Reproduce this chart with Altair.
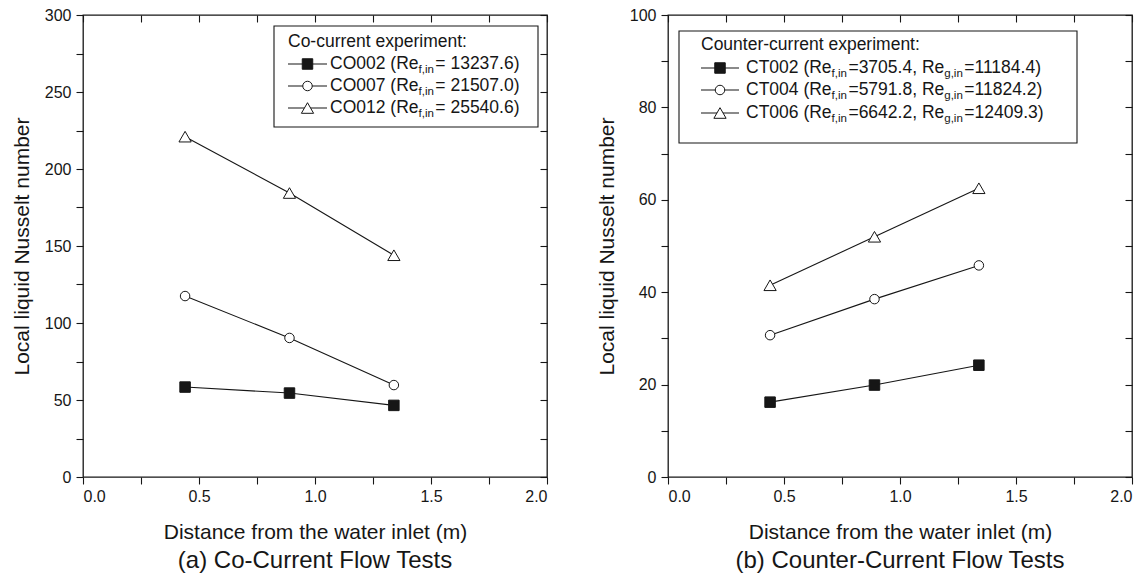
import altair as alt
import pandas as pd

FONT = "Liberation Sans"
INK = "#161616"

# ---------------- data ----------------
distance = [0.44, 0.89, 1.34]

co_series = ["CO002", "CO007", "CO012"]
co_re_f = ["13237.6", "21507.0", "25540.6"]
co002 = [58.4, 54.5, 46.5]
co007 = [117.5, 90.3, 59.7]
co012 = [221.0, 184.4, 144.0]

ct_series = ["CT002", "CT004", "CT006"]
ct_re_f = ["3705.4", "5791.8", "6642.2"]
ct_re_g = ["11184.4", "11824.2", "12409.3"]
ct002 = [16.2, 19.9, 24.2]
ct004 = [30.7, 38.5, 45.8]
ct006 = [41.5, 52.0, 62.5]

x_ticks = [0.0, 0.25, 0.5, 0.75, 1.0, 1.25, 1.5, 1.75, 2.0]
co_y_ticks = [0, 25, 50, 75, 100, 125, 150, 175, 200, 225, 250, 275, 300]
ct_y_ticks = [0, 10, 20, 30, 40, 50, 60, 70, 80, 90, 100]

x_title = "Distance from the water inlet (m)"
y_title = "Local liquid Nusselt number"
captions = ["(a) Co-Current Flow Tests", "(b) Counter-Current Flow Tests"]

# marker styles: (shape, fill, size)
STYLES = [("square", INK, 110), ("circle", "white", 90), ("triangle-up", "white", 150)]

W, H = 464, 462
LEG = 17.5   # legend font size
SUB = 11.5   # subscript font size

ARIAL = {' ': 0.278, '(': 0.333, ')': 0.333, ',': 0.278, '.': 0.278, '=': 0.584,
         'C': 0.722, 'O': 0.778, 'T': 0.611, 'R': 0.722, 'e': 0.556, 'f': 0.278,
         'g': 0.556, 'i': 0.222, 'n': 0.556}
for d in "0123456789":
    ARIAL[d] = 0.556


def tw(s, size):
    return sum(ARIAL.get(c, 0.556) for c in s) * size


ONE = alt.Data(values=[{"k": 1}])


def build_panel(series, values, ymax, y_ticks, y_label_step, caption, legend_title,
                legend_rows, box, title_pos, row_ys, sample_x, text_x):
    xs = alt.Scale(domain=[0, 2], nice=False, zero=False)
    ys = alt.Scale(domain=[0, ymax], nice=False, zero=False)
    rows = []
    for name, vals in zip(series, values):
        for xv, yv in zip(distance, vals):
            rows.append({"series": name, "x": xv, "y": yv})
    df = pd.DataFrame(rows)

    x_axis = alt.Axis(values=x_ticks, title=x_title,
                      labelExpr="abs(datum.value*2 - round(datum.value*2)) < 1e-6 ? format(datum.value, '.1f') : ''",
                      tickSize=7, labelPadding=4, titlePadding=17, grid=False, domain=False)
    y_axis = alt.Axis(values=y_ticks, title=y_title,
                      labelExpr=f"datum.value % {y_label_step} == 0 ? datum.label : ''",
                      tickSize=7, labelPadding=5, titlePadding=12, grid=False, domain=False)

    layers = []
    first = True
    for i, name in enumerate(series):
        shape, fill, size = STYLES[i]
        sub = df[df.series == name]
        line = alt.Chart(sub).mark_line(color=INK, strokeWidth=1.1).encode(
            x=alt.X("x:Q", scale=xs, axis=x_axis if first else None),
            y=alt.Y("y:Q", scale=ys, axis=y_axis if first else None),
        )
        first = False
        pts = alt.Chart(sub).mark_point(shape=shape, filled=True, fill=fill, stroke=INK,
                                        strokeWidth=1, size=size, opacity=1).encode(
            x=alt.X("x:Q", scale=xs, axis=None),
            y=alt.Y("y:Q", scale=ys, axis=None),
        )
        layers += [line, pts]

    # mirrored inward ticks on top and right
    frame = alt.Chart(df).mark_point(opacity=0).encode(
        x=alt.X("x:Q", scale=xs, axis=alt.Axis(orient="top", values=x_ticks, labels=False, title=None,
                                              tickSize=7, offset=-7, domain=False, grid=False)),
        y=alt.Y("y:Q", scale=ys, axis=alt.Axis(orient="right", values=y_ticks, labels=False, title=None,
                                              tickSize=7, offset=-7, domain=False, grid=False)),
    )
    layers.append(frame)

    # legend box
    bx0, bx1, by0, by1 = box
    layers.append(alt.Chart(ONE).mark_rect(fill="white", stroke=INK, strokeWidth=1.1).encode(
        x=alt.value(bx0), x2=alt.value(bx1), y=alt.value(by0), y2=alt.value(by1)))
    layers.append(alt.Chart(ONE).mark_text(text=legend_title, align="left", baseline="middle",
                                           font=FONT, fontSize=LEG, color=INK).encode(
        x=alt.value(title_pos[0]), y=alt.value(title_pos[1])))
    for i, pieces in enumerate(legend_rows):
        shape, fill, size = STYLES[i]
        yv = row_ys[i]
        layers.append(alt.Chart(ONE).mark_rule(color=INK, strokeWidth=1.1).encode(
            x=alt.value(sample_x[0]), x2=alt.value(sample_x[1]), y=alt.value(yv)))
        layers.append(alt.Chart(ONE).mark_point(shape=shape, filled=True, fill=fill, stroke=INK,
                                                strokeWidth=1, size=size, opacity=1).encode(
            x=alt.value((sample_x[0] + sample_x[1]) / 2), y=alt.value(yv)))
        cx = text_x
        for txt, is_sub in pieces:
            fs = SUB if is_sub else LEG
            layers.append(alt.Chart(ONE).mark_text(text=txt, align="left", baseline="middle",
                                                   font=FONT, fontSize=fs, color=INK).encode(
                x=alt.value(cx), y=alt.value(yv + (6 if is_sub else 0))))
            cx += tw(txt, fs) + (1.5 if is_sub else 0)

    return alt.layer(*layers).resolve_axis(x="independent", y="independent").properties(
        width=W, height=H,
        title=alt.TitleParams(caption, orient="bottom", anchor="middle", frame="group",
                              font=FONT, fontSize=24, fontWeight="normal", color=INK, offset=7),
    )


co_rows = [[(f"{s} (Re", False), ("f,in", True), (f" = {r})", False)]
           for s, r in zip(co_series, co_re_f)]
ct_rows = [[(f"{s} (Re", False), ("f,in", True), (f"={rf}, Re", False), ("g,in", True), (f"={rg})", False)]
           for s, rf, rg in zip(ct_series, ct_re_f, ct_re_g)]

left = build_panel(co_series, [co002, co007, co012], 300, co_y_ticks, 50, captions[0],
                   "Co-current experiment:", co_rows,
                   box=(191, 455, 11, 112), title_pos=(205, 27), row_ys=[49, 71, 93],
                   sample_x=(205, 244), text_x=247)
right = build_panel(ct_series, [ct002, ct004, ct006], 100, ct_y_ticks, 20, captions[1],
                    "Counter-current experiment:", ct_rows,
                    box=(11, 409, 16, 128), title_pos=(33, 30), row_ys=[53, 75, 98],
                    sample_x=(33, 71), text_x=78)

chart = alt.hconcat(left, right, spacing=46).properties(
    padding={"left": 10, "top": 6, "right": 5, "bottom": 2}, background="white"
).configure_view(stroke=INK, strokeWidth=1.3).configure_axis(
    labelFont=FONT, titleFont=FONT, labelFontSize=16, titleFontSize=21,
    titleFontWeight="normal", labelColor=INK, titleColor=INK, tickColor=INK, tickWidth=1.1,
)

chart.save("out.html", embed_options={"renderer": "svg", "actions": False})
